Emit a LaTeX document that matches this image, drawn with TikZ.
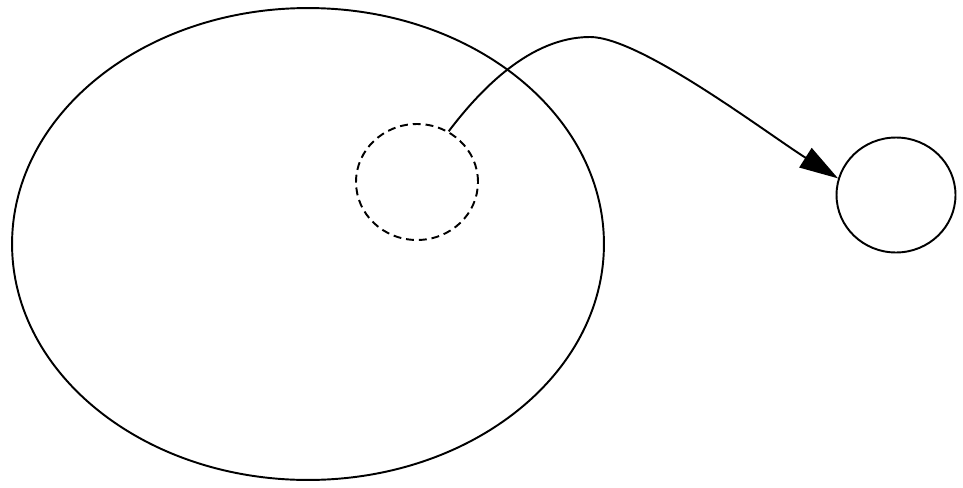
\documentclass[tikz,border=0pt]{standalone}
\usetikzlibrary{shapes.geometric,arrows.meta}
\begin{document}
\begin{tikzpicture}[x=0.02cm,y=-0.02cm,
  oval/.style={draw,ellipse,inner sep=0pt,line width=1.1pt},
  dashoval/.style={oval,dash pattern=on 4.5pt off 2.8pt},
  conn/.style={line width=1.1pt,-{Triangle[length=22pt,width=13pt]}}]
\useasboundingbox (0,0) rectangle (963,487);
\node[oval,minimum width=11.84cm,minimum height=9.44cm] (big) at (308,244) {};
\node[dashoval,minimum width=2.44cm,minimum height=2.32cm] (small) at (417,182) {};
\node[oval,minimum width=2.38cm,minimum height=2.3cm] (right) at (896,195) {};
\coordinate (peak) at (590,37);
\draw[conn] (small.58) .. controls (480,90) and (530,37) .. (peak)
  .. controls (640,37) and (765,132) .. (right.164);
\end{tikzpicture}
\end{document}
